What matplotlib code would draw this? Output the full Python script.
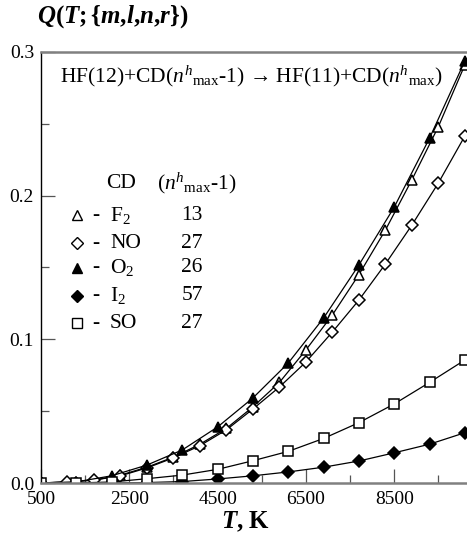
import matplotlib
matplotlib.use("Agg")
import matplotlib.pyplot as plt
from matplotlib.ticker import MultipleLocator, FixedLocator

plt.rcParams['font.family'] = ['Liberation Serif', 'DejaVu Serif']
plt.rcParams['mathtext.fontset'] = 'custom'
plt.rcParams['mathtext.rm'] = 'Liberation Serif'
plt.rcParams['mathtext.it'] = 'Liberation Serif:italic'
plt.rcParams['mathtext.bf'] = 'Liberation Serif:bold'
plt.rcParams['mathtext.bfit'] = 'Liberation Serif:bold:italic'

# ---- data ----
T_800 = [500, 1300, 2100, 2900, 3700, 4500, 5300, 6100, 6900, 7700, 8500, 9300, 10100]
T_600 = [500, 1100, 1700, 2300, 2900, 3500, 4100, 4700, 5300, 5900, 6500, 7100,
         7700, 8300, 8900, 9500, 10100]

Q_F2 = [0.0, 0.0008, 0.002, 0.0055, 0.011, 0.018, 0.027, 0.038, 0.053, 0.070,
        0.0926, 0.117, 0.145, 0.176, 0.211, 0.248, 0.291]
Q_NO = [0.0, 0.0008, 0.002, 0.005, 0.0105, 0.0175, 0.026, 0.037, 0.0515, 0.0668,
        0.0842, 0.1051, 0.1273, 0.1524, 0.1795, 0.2088, 0.2415]
Q_O2 = [0.0, 0.0008, 0.005, 0.0125, 0.023, 0.039, 0.0592, 0.0835, 0.1148,
        0.1517, 0.192, 0.240, 0.2937]
Q_I2 = [0.0, 0.0, 0.0, 0.0003, 0.001, 0.0028, 0.005, 0.0077, 0.011, 0.0153,
        0.021, 0.027, 0.035]
Q_SO = [0.0, 0.0, 0.0007, 0.003, 0.0055, 0.0095, 0.0155, 0.022, 0.031, 0.042,
        0.055, 0.070, 0.0856]

legend_names = ['F$_2$', 'NO', 'O$_2$', 'I$_2$', 'SO']
legend_nums = ['13', '27', '26', '57', '27']

x_major = [500, 2500, 4500, 6500, 8500]
x_minor = [1500, 3500, 5500, 7500, 9500]
y_major = [0.0, 0.1, 0.2, 0.3]

W, H = 467, 538
fig = plt.figure(figsize=(W / 100, H / 100), dpi=100)

def fx(px):
    return px / W

def fy(py):
    return 1 - py / H

left, right, top, bottom = 41, 467, 52, 483
ax = fig.add_axes([fx(left), fy(bottom), fx(right - left), (bottom - top) / H])

series = [
    (T_600, Q_F2, '^', 'white'),
    (T_600, Q_NO, 'D', 'white'),
    (T_800, Q_O2, '^', 'black'),
    (T_800, Q_I2, 'D', 'black'),
    (T_800, Q_SO, 's', 'white'),
]
sizes = {'^': 7.5, 'D': 6.3, 's': 7.0}
for T, Q, m, fc in series:
    ax.plot(T, Q, color='black', lw=0.9, marker=m, markersize=sizes[m],
            markerfacecolor=fc, markeredgecolor='black', markeredgewidth=1.1)

ax.set_xlim(500, 500 + (right - left) / 88.3 * 2000)
ax.set_ylim(0, 0.3)

ax.xaxis.set_major_locator(FixedLocator(x_major))
ax.xaxis.set_minor_locator(FixedLocator(x_minor))
ax.yaxis.set_major_locator(FixedLocator(y_major))
ax.yaxis.set_minor_locator(MultipleLocator(0.05))
ax.set_xticklabels([str(v) for v in x_major])
ax.set_yticklabels(['0.0', '0.1', '0.2', '0.3'])

ax.tick_params(axis='both', which='major', direction='in', length=10, width=0.9,
               labelsize=14, color='#555555')
ax.tick_params(axis='both', which='minor', direction='in', length=5.5, width=0.9,
               color='#555555')
ax.tick_params(axis='x', which='major', pad=6)
ax.tick_params(axis='y', which='major', pad=5)
ax.tick_params(right=False, top=False)

ax.spines['right'].set_visible(False)
ax.spines['left'].set_color('black')
ax.spines['left'].set_linewidth(1.0)
for s in ('top', 'bottom'):
    ax.spines[s].set_color('#808080')
    ax.spines[s].set_linewidth(1.8)

# title & labels
fig.text(fx(37), fy(17),
         r'$\mathbfit{Q}\mathbf{(}\mathbfit{T}{\mathbf{;}}\mathbf{\{}\mathbfit{m}{\mathbf{,}}'
         r'\mathbfit{l}{\mathbf{,}}\mathbfit{n}{\mathbf{,}}\mathbfit{r}\mathbf{\})}$',
         fontsize=18, ha='left', va='center')
fig.text(fx(245), fy(522), r'$\mathbfit{T}$, K', fontsize=18, fontweight='bold',
         ha='center', va='center')

# reaction annotation
fig.text(fx(60), fy(76),
         'HF(12)+CD($n^{h}{}_{\\rm max}$-1) \u2192 HF(11)+CD($n^{h}{}_{\\rm max}$)',
         fontsize=15.5, ha='left', va='center')

# legend table
fig.text(fx(106), fy(183), 'CD', fontsize=15.5, ha='left', va='center')
fig.text(fx(157), fy(183), r'($n^{h}{}_{\rm max}$-1)', fontsize=15.5, ha='left', va='center')
row_y = [215, 243, 268, 296, 323]
for (T, Q, m, fc), name, num, ry in zip(series, legend_names, legend_nums, row_y):
    fig.lines.append(plt.Line2D([fx(77)], [fy(ry)], transform=fig.transFigure,
                                marker=m, markersize=sizes[m] - 0.5, markerfacecolor=fc,
                                markeredgecolor='black', markeredgewidth=1.0,
                                linestyle='none'))
    fig.text(fx(92), fy(ry), '-', fontsize=15.5, ha='left', va='center')
    fig.text(fx(110), fy(ry), name, fontsize=15.5, ha='left', va='center')
    fig.text(fx(192), fy(ry), num, fontsize=15.5, ha='center', va='center')

fig.savefig('out.png', dpi=100)
